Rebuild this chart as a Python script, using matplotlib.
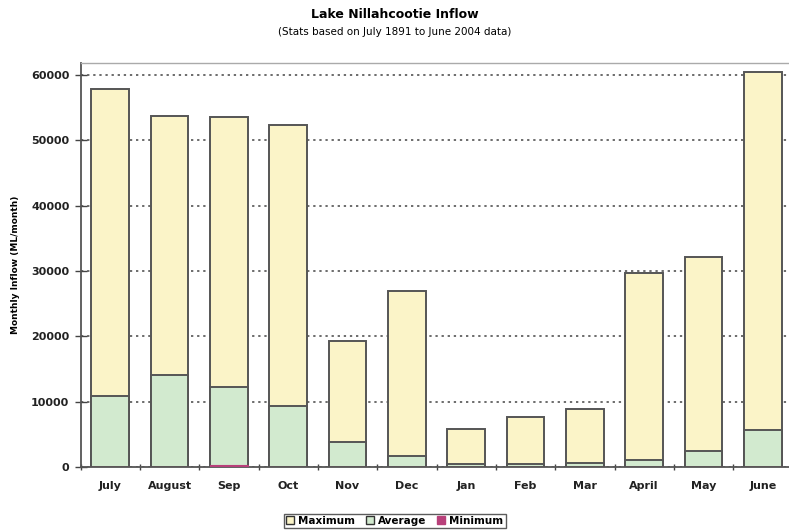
import numpy as np
import matplotlib.pyplot as plt
from matplotlib.patches import Patch

# Monthly inflow statistics (ML/month)
months = ["July", "August", "Sep", "Oct", "Nov", "Dec",
          "Jan", "Feb", "Mar", "April", "May", "June"]
maximum = [57900, 53800, 53600, 52400, 19300, 26900,
           5800, 7600, 8900, 29700, 32200, 60400]
average = [10900, 14100, 12300, 9300, 3900, 1700,
           500, 400, 600, 1000, 2500, 5700]
minimum = [0, 0, 300, 0, 0, 0,
           0, 0, 0, 0, 0, 0]

yellow = "#fbf4c8"
green = "#d2eacf"
pink = "#b8407a"
edge = "#555555"

fig = plt.figure(figsize=(7.89, 5.32), dpi=100)
ax = fig.add_axes([80.5 / 789, 1 - 467 / 532, 712 / 789, (467 - 63) / 532])

x = np.arange(len(months))
w = 0.64
# overlapping bars: max behind, average in front, minimum on top
ax.bar(x, maximum, w, color=yellow, edgecolor=edge, linewidth=1.4, zorder=2)
ax.bar(x, average, w, color=green, edgecolor=edge, linewidth=1.4, zorder=3)
ax.bar(x, minimum, w, color=pink, edgecolor=pink, linewidth=0.8, zorder=4)

ax.set_xlim(-0.5, len(months) - 0.5)
ax.set_ylim(0, 61850)
ax.set_yticks(np.arange(0, 60001, 10000))
ax.set_yticklabels([str(v) for v in range(0, 60001, 10000)],
                   fontsize=8, fontweight="bold", color="#222222")
ax.yaxis.grid(True, linestyle=(0, (1.5, 2.5)), color="#444444", linewidth=1.1, zorder=1)
ax.set_axisbelow(True)

# category ticks sit between bars, labels at bar centres
ax.set_xticks(x)
ax.set_xticklabels(months, fontsize=8, fontweight="bold", color="#222222")
ax.set_xticks(np.arange(-0.5, len(months), 1), minor=True)
ax.tick_params(axis="x", which="major", length=0, pad=10)
ax.tick_params(axis="x", which="minor", length=5, direction="inout", width=1, color="#444444")
ax.tick_params(axis="y", which="major", length=8, direction="inout", width=1, color="#444444", pad=4)

ax.set_ylabel("Monthly Inflow (ML/month)", fontsize=6.5, fontweight="bold", labelpad=8)

for s in ["left", "bottom"]:
    ax.spines[s].set_color("#555555")
    ax.spines[s].set_linewidth(1.3)
ax.spines["top"].set_color("#aaaaaa")
ax.spines["top"].set_linewidth(1.0)
ax.spines["right"].set_visible(False)

fig.text(0.5, 1 - 14 / 532, "Lake Nillahcootie Inflow", ha="center", va="center",
         fontsize=9, fontweight="bold")
fig.text(0.5, 1 - 32 / 532, "(Stats based on July 1891 to June 2004 data)", ha="center",
         va="center", fontsize=7.5)

handles = [Patch(facecolor=yellow, edgecolor="#333333"),
           Patch(facecolor=green, edgecolor="#333333"),
           Patch(facecolor=pink, edgecolor=pink)]
leg = fig.legend(handles, ["Maximum", "Average", "Minimum"], loc="center",
                 bbox_to_anchor=(0.5, 1 - 521 / 532), ncol=3, fontsize=7.5,
                 frameon=True, fancybox=False, handlelength=0.8, handleheight=0.8,
                 handletextpad=0.4, columnspacing=1.0, borderpad=0.2)
leg.get_frame().set_edgecolor("#333333")
leg.get_frame().set_linewidth(1.0)
for t in leg.get_texts():
    t.set_fontweight("bold")

fig.savefig("out.png", dpi=100)
